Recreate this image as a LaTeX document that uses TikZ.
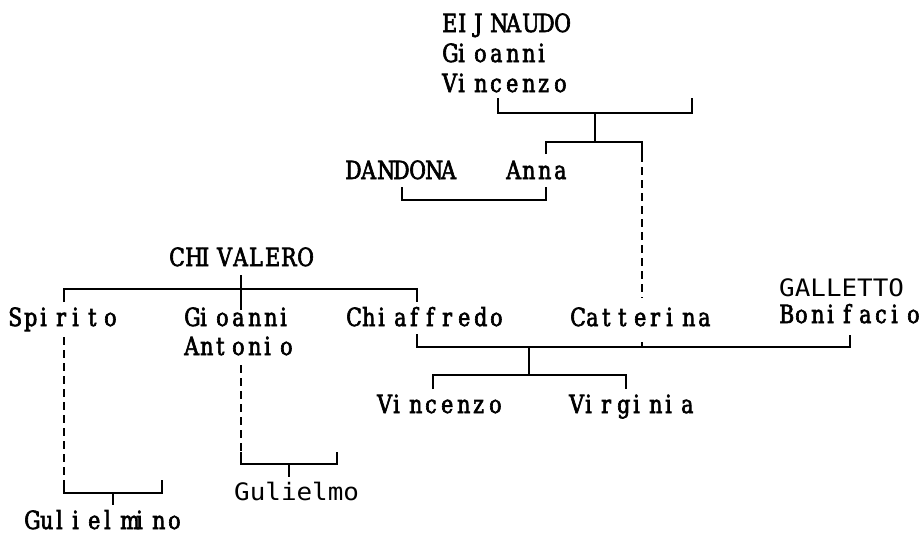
\documentclass[tikz,border=0pt]{standalone}
\usepackage{fontspec}
\newfontfamily\namefont{DejaVu Serif}[FakeStretch=0.82, FakeBold=2.5]
\newfontfamily\altfont{DejaVu Sans Mono}[FakeStretch=1.08]
% one letter per fixed 16pt cell, as on a character screen
\ExplSyntaxOn
\NewDocumentCommand \cellrow { m }
  { \tl_map_inline:nn {#1} { \makebox[16pt][l]{##1} } }
\ExplSyntaxOff
\tikzset{
  person/.style={anchor=base west, inner sep=0pt, align=left,
    font=\namefont\fontsize{25}{30}\selectfont},
  altname/.style={font=\altfont\fontsize{24}{27}\selectfont},
  tie/.style={line width=1.6pt},
  lineage/.style={line width=1.6pt, dash pattern=on 8pt off 5pt},
}
\begin{document}
\begin{tikzpicture}[x=1pt, y=-1pt]
  \useasboundingbox (0,0) rectangle (924,533);

  % Names (multi-line nodes sit on their last line)
  \node[person] (eijnaudo) at (442,92)
    {\cellrow{EIJNAUDO}\\\cellrow{Gioanni}\\\cellrow{Vincenzo}};
  \node[person] (dandona) at (345,179) {\cellrow{DANDONA}};
  \node[person] (anna) at (506,179) {\cellrow{Anna}};
  \node[person] (chivalero) at (169,266) {\cellrow{CHIVALERO}};
  \node[person] (spirito) at (8,326) {\cellrow{Spirito}};
  \node[person] (gioanni) at (184,355) {\cellrow{Gioanni}\\[-1pt]\cellrow{Antonio}};
  \node[person] (chiaffredo) at (346,326) {\cellrow{Chiaffredo}};
  \node[person] (catterina) at (570,326) {\cellrow{Catterina}};
  \node[person] (galletto) at (779,323)
    {{\altfont\fontsize{24}{27}\selectfont GALLETTO}\\[-3pt]\cellrow{Bonifacio}};
  \node[person] (vincenzo) at (377,413) {\cellrow{Vincenzo}};
  \node[person] (virginia) at (569,413) {\cellrow{Virginia}};
  \node[person, altname] (gulielmo) at (234,500) {Gulielmo};
  \node[person] (gulielmino) at (24,529) {\cellrow{Gulielmino}};

  % Eijnaudo and his children
  \coordinate (eij-l) at (498,98);
  \coordinate (eij-r) at (692,98);
  \coordinate (eij-m) at (595,113);
  \coordinate (eij-kids) at (595,142);
  \coordinate (anna-up) at (546,154);
  \coordinate (cat-up) at (642,154);
  \coordinate (cat-top) at (642,298);
  \draw[tie] (eij-l) |- (eij-m) -| (eij-r);
  \draw[tie] (eij-m) -- (eij-kids);
  \draw[tie] (anna-up) |- (eij-kids) -| (cat-up);
  \draw[lineage] (cat-up) -- (cat-top);

  % Dandona - Anna
  \coordinate (dan-dn) at (402,187);
  \coordinate (anna-dn) at (546,187);
  \draw[tie] (dan-dn) -- ++(0,13) -| (anna-dn);

  % Chivalero and his children
  \coordinate (chi-up) at (241,275);
  \coordinate (chi-bar) at (241,289);
  \coordinate (gio-up) at (241,310);
  \coordinate (spi-up) at (64,302);
  \coordinate (chf-up) at (417,302);
  \draw[tie] (chi-up) -- (gio-up);
  \draw[tie] (spi-up) |- (chi-bar) -| (chf-up);

  % Spirito -> Gulielmino
  \coordinate (spi-dn) at (64,337);
  \coordinate (spi-l) at (64,480);
  \coordinate (spi-r) at (162,480);
  \coordinate (spi-m) at (113,493);
  \coordinate (gln-up) at (113,505);
  \draw[lineage] (spi-dn) -- (spi-l);
  \draw[tie] (spi-l) |- (spi-m) -| (spi-r);
  \draw[tie] (spi-m) -- (gln-up);

  % Gioanni Antonio -> Gulielmo
  \coordinate (gio-dn) at (241,365);
  \coordinate (gio-l) at (241,452);
  \coordinate (gio-r) at (337,452);
  \coordinate (gio-m) at (289,464);
  \coordinate (glm-up) at (289,477);
  \draw[lineage] (gio-dn) -- (gio-l);
  \draw[tie] (gio-l) |- (gio-m) -| (gio-r);
  \draw[tie] (gio-m) -- (glm-up);

  % Chiaffredo, Catterina, Bonifacio and the children
  \coordinate (chf-dn) at (417,334);
  \coordinate (cat-dn) at (642,342);
  \coordinate (bon-dn) at (850,335);
  \coordinate (chf-m) at (529,347);
  \coordinate (chf-kids) at (529,375);
  \coordinate (vin-up) at (433,389);
  \coordinate (vir-up) at (626,389);
  \draw[tie] (chf-dn) |- (chf-m) -| (bon-dn);
  \draw[tie] (cat-dn) -- (cat-dn |- chf-m);
  \draw[tie] (chf-m) -- (chf-kids);
  \draw[tie] (vin-up) |- (chf-kids) -| (vir-up);
\end{tikzpicture}
\end{document}
